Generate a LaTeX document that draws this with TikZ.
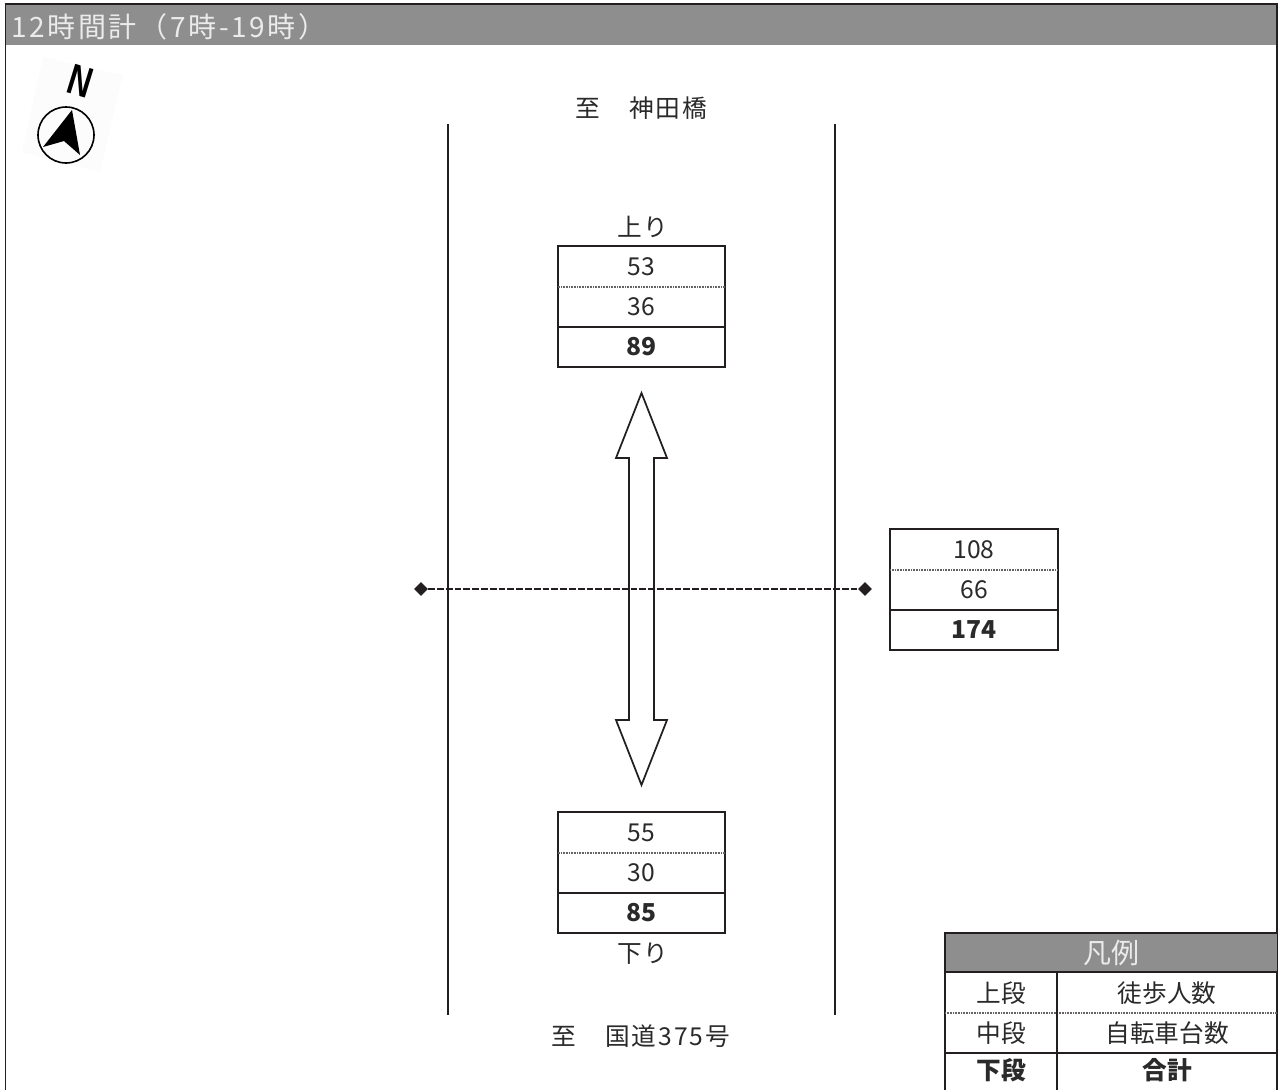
\documentclass[tikz,border=0pt]{standalone}
\usepackage{xcolor}
\usepackage{fontspec}
\setmainfont{Noto Sans CJK JP}
\newfontfamily\northfont{Liberation Sans}
\newfontfamily\widefont[LetterSpace=8]{Noto Sans CJK JP}
\newfontfamily\titlefont[LetterSpace=9.5]{Noto Sans CJK JP}
\usepackage{tikz}
\usetikzlibrary{shapes.geometric}
\definecolor{barCol}{HTML}{8F8E8E}
\definecolor{lineCol}{HTML}{231F20}
\definecolor{inkCol}{HTML}{2A2A2A}
\definecolor{paperCol}{HTML}{FCFCFC}
\tikzset{
  cell/.style={font=\fontsize{18.5pt}{20pt}\selectfont, text=inkCol, inner sep=0pt,
        minimum width=125.25pt, minimum height=30pt},
  cellb/.style={cell, font=\fontsize{18.5pt}{20pt}\selectfont\bfseries},
  lbl/.style={font=\widefont\fontsize{18.5pt}{20pt}\selectfont, text=inkCol, inner sep=0pt},
  lgd/.style={cell, minimum width=0pt},
  lgdb/.style={cellb, minimum width=0pt},
  road/.style={draw=lineCol, line width=1.4pt},
  rule/.style={draw=lineCol, line width=1.4pt},
  drule/.style={draw=lineCol!70, line width=1.5pt, dash pattern=on 0.7pt off 0.5pt},
  tick/.style={diamond, fill=lineCol, inner sep=0pt, minimum size=10.5pt},
}
\begin{document}
\begin{tikzpicture}[x=0.75pt,y=-0.75pt]
  \useasboundingbox (0,0) rectangle (1278,1089);
  % --- header bar + frame ---
  \node[fill=barCol, anchor=north west, inner sep=0pt, minimum width=954pt, minimum height=30.5pt] (bar) at (6,4.5) {};
  \node[font=\titlefont\fontsize{21pt}{23pt}\selectfont, text=white!92!black, anchor=west, inner sep=0pt] (ttl) at (11,27) {12時間計（7時-19時）};
  \coordinate (fa) at (5.5,1095); \coordinate (fb) at (5.5,4); \coordinate (fc) at (1277,4); \coordinate (fd) at (1277,1095);
  \draw[rule] (fa) -- (fb) -- (fc) -- (fd);
  % --- north mark ---
  \fill[paperCol] (43,57) -- (123,75) -- (100,172) -- (22,152) -- cycle;
  \node[font=\northfont\bfseries\itshape\fontsize{33pt}{33pt}\selectfont, xscale=0.72, rotate=-12, inner sep=0pt] (north) at (79.5,80.5) {N};
  \node[circle, draw=black, line width=1.2pt, minimum size=42pt, inner sep=0pt] (compass) at (66,135) {};
  \fill[black] (72,110) -- (43,147) -- (64,141) -- (80,155) -- cycle;
  % --- road ---
  \coordinate (rla) at (448,124); \coordinate (rlb) at (448,1015);
  \coordinate (rra) at (835,124); \coordinate (rrb) at (835,1015);
  \draw[road] (rla) -- (rlb);
  \draw[road] (rra) -- (rrb);
  \node[lbl] (toN) at (641.5,108) {至　神田橋};
  \node[lbl] (toS) at (641,1036) {至　国道375号};
  % --- up count ---
  \node[lbl] (upT) at (643,227) {上り};
  \node[cell] (upA) at (641.5,266.5) {53};
  \node[cell] (upB) at (641.5,307) {36};
  \node[cellb] (upC) at (641.5,347) {89};
  % --- down count ---
  \node[cell] (dnA) at (641.5,832.5) {55};
  \node[cell] (dnB) at (641.5,873) {30};
  \node[cellb] (dnC) at (641.5,913) {85};
  \node[lbl] (dnT) at (643,954) {下り};
  % --- section count ---
  \node[cell] (exA) at (974,549.5) {108};
  \node[cell] (exB) at (974,590) {66};
  \node[cellb] (exC) at (974,630) {174};
  \foreach \t in {up,dn,ex} {
    \draw[rule] (\t A.north west) rectangle (\t C.south east);
    \draw[drule] (\t A.south west) -- (\t A.south east);
    \draw[rule] (\t B.south west) -- (\t B.south east);
  }
  % double arrow
  \draw[draw=lineCol, line width=1.3pt, line join=miter, fill=white] (641.5,393) -- (667,458) -- (654,458) -- (654,720) -- (667,720)
     -- (641.5,785) -- (616,720) -- (629,720) -- (629,458) -- (616,458) -- cycle;
  % cross section
  \node[tick] (tkL) at (421,589) {};
  \node[tick] (tkR) at (865,589) {};
  \draw[draw=lineCol, line width=1.1pt, dashed, dash pattern=on 5pt off 1.6pt] (tkL) -- (tkR);
  % --- legend ---
  \node[fill=barCol, anchor=north west, inner sep=0pt, minimum width=249pt, minimum height=29pt,
        font=\fontsize{21pt}{23pt}\selectfont, text=white!92!black] (lgH) at (945,933.5) {凡例};
  \node[lgd] (lgA) at (1001,993) {上段};
  \node[lgd] (lgB) at (1001,1033) {中段};
  \node[lgdb] (lgC) at (1001,1070) {下段};
  \node[lgd] (lgD) at (1167,993) {徒歩人数};
  \node[lgd] (lgE) at (1167,1033) {自転車台数};
  \node[lgdb] (lgF) at (1167,1070) {合計};
  \coordinate (lga) at (945,933); \coordinate (lgb) at (945,1095); \coordinate (lgc) at (1278,933);
  \coordinate (lgd) at (945,972); \coordinate (lge) at (1278,972);
  \coordinate (lgf) at (945,1013); \coordinate (lgg) at (1278,1013);
  \coordinate (lgh) at (945,1053); \coordinate (lgi) at (1278,1053);
  \coordinate (lgj) at (1057,972); \coordinate (lgk) at (1057,1095);
  \draw[rule] (lgb) -- (lga) -- (lgc);
  \draw[rule] (lgd) -- (lge);
  \draw[drule] (lgf) -- (lgg);
  \draw[rule] (lgh) -- (lgi);
  \draw[rule] (lgj) -- (lgk);
\end{tikzpicture}
\end{document}
